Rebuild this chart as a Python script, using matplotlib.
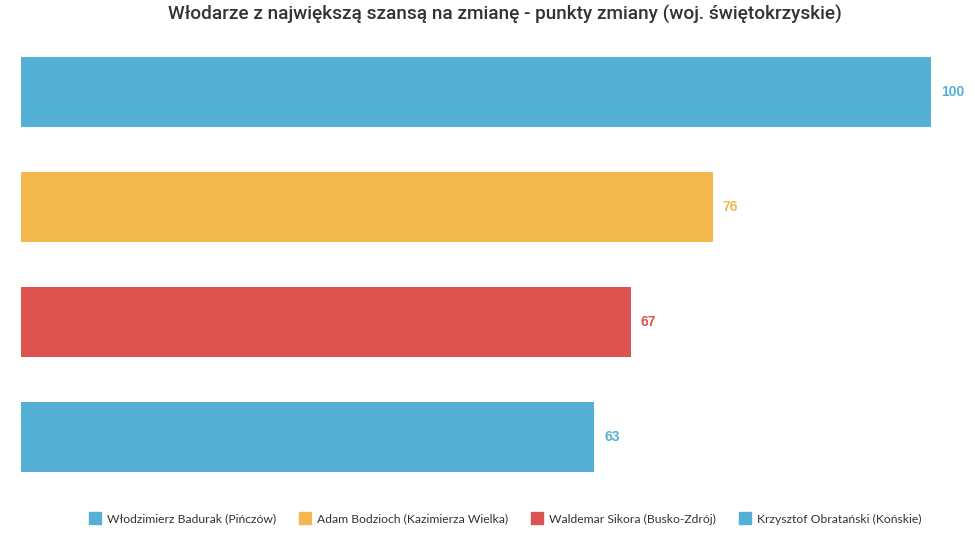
import matplotlib.pyplot as plt
from matplotlib.lines import Line2D

names = ["Włodzimierz Badurak (Pińczów)", "Adam Bodzioch (Kazimierza Wielka)",
         "Waldemar Sikora (Busko-Zdrój)", "Krzysztof Obratański (Końskie)"]
points = [100, 76, 67, 63]
colors = ["#55B0D6", "#F2B84E", "#DC5350", "#55B0D6"]

title = "Włodarze z największą szansą na zmianę - punkty zmiany (woj. świętokrzyskie)"

fig = plt.figure(figsize=(9.75, 5.36), dpi=100)
ax = fig.add_axes([21 / 975, 1 - 494.5 / 536, 910 / 975, 460 / 536])

ypos = list(range(len(points)))
ax.barh(ypos, points, height=0.6087, color=colors)
for y, v, c in zip(ypos, points, colors):
    ax.text(v + 1.1, y, str(v), va="center", ha="left", color=c,
            fontsize=10, fontweight="bold", family="Liberation Sans")

ax.set_xlim(0, 100)
ax.set_ylim(3.5, -0.5)
ax.axis("off")

fig.text(505 / 975, 1 - 14 / 536, title, ha="center", va="center",
         fontsize=13.7, fontweight="medium", color="#333333", family="Roboto")

handles = [Line2D([], [], marker="s", linestyle="none", markersize=8,
                  markerfacecolor=c, markeredgecolor=c) for c in colors]
fig.legend(handles, names, loc="center", bbox_to_anchor=(505 / 975, 1 - 519 / 536),
           ncol=4, frameon=False, handlelength=1, handletextpad=0.5,
           columnspacing=1.9, prop={"family": "Lato", "size": 8.7},
           labelcolor="#333333")

fig.savefig("out.png", dpi=100)
